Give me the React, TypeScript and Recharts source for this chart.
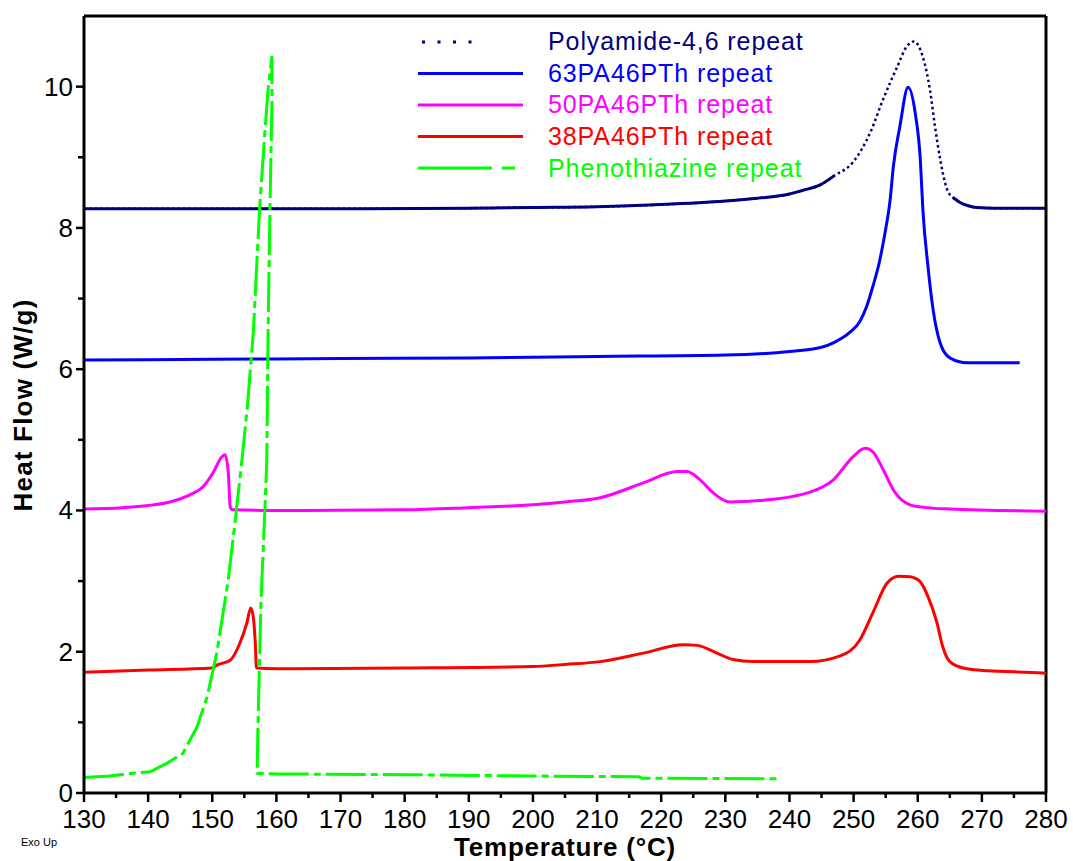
import React from 'react';
import { LineChart, Line, XAxis, YAxis, ReferenceLine, Legend, Label } from 'recharts';

// ---- Data (Temperature °C, Heat Flow W/g) ----
const pa46T = [130, 150, 170, 190, 200, 210, 220, 230, 235, 240, 242, 244.8, 247, 249.9, 252.6, 254.6, 256.8, 258.3, 259.4, 260.8, 261.9, 262.7, 263.5, 264.6, 265.5, 266.6, 268, 269.2, 272, 280];
const pa46HF = [8.27, 8.27, 8.27, 8.28, 8.29, 8.3, 8.33, 8.38, 8.42, 8.48, 8.53, 8.61, 8.74, 8.93, 9.35, 9.82, 10.28, 10.57, 10.64, 10.42, 9.96, 9.43, 8.97, 8.54, 8.43, 8.36, 8.31, 8.29, 8.28, 8.28];

const pa63T = [130, 150, 170, 190, 210, 230, 240, 245, 247, 249.4, 251, 252, 253, 254.1, 254.9, 255.7, 256.2, 257.2, 258.5, 259.6, 260.4, 260.8, 261.6, 262.4, 263.5, 265, 267.7, 275.9];
const pa63HF = [6.13, 6.14, 6.15, 6.16, 6.18, 6.2, 6.25, 6.31, 6.38, 6.52, 6.68, 6.88, 7.17, 7.55, 7.93, 8.4, 8.87, 9.43, 9.99, 9.63, 8.97, 8.26, 7.45, 6.84, 6.37, 6.16, 6.09, 6.09];

const pa50T = [130, 136, 140, 143.4, 146.5, 148.6, 150.1, 151.5, 152.0, 152.5, 152.8, 153.1, 160, 180, 190, 200, 205, 210.5, 217.2, 222.5, 224, 226.1, 228.1, 230.7, 235.4, 243.2, 246.8, 249.9, 251.8, 253, 254.6, 256.2, 258.8, 261.4, 265, 280];
const pa50HF = [4.02, 4.04, 4.07, 4.12, 4.22, 4.34, 4.53, 4.76, 4.79, 4.53, 4.05, 4.01, 4.0, 4.01, 4.04, 4.08, 4.12, 4.18, 4.39, 4.55, 4.55, 4.43, 4.25, 4.12, 4.14, 4.26, 4.43, 4.76, 4.88, 4.83, 4.58, 4.29, 4.08, 4.04, 4.02, 3.99];

const pa38T = [130, 140, 150, 150.7, 152.8, 154.3, 155.4, 156.0, 156.4, 156.7, 156.9, 160, 180, 200, 205, 210.5, 217.2, 223.4, 225.6, 228.7, 231.2, 234.3, 243.2, 247.9, 251, 253, 255.2, 257, 258.8, 260.4, 261.6, 263, 263.9, 265, 267.1, 270.8, 279.5, 280];
const pa38HF = [1.71, 1.74, 1.77, 1.81, 1.88, 2.12, 2.41, 2.62, 2.49, 2.14, 1.77, 1.76, 1.77, 1.79, 1.82, 1.86, 1.98, 2.1, 2.09, 1.98, 1.89, 1.86, 1.86, 1.94, 2.17, 2.55, 2.97, 3.07, 3.06, 2.99, 2.78, 2.41, 2.07, 1.86, 1.77, 1.73, 1.7, 1.69];

const pthT = [130, 134, 137.6, 140.3, 142.9, 145.4, 147.6, 149.2, 150.7, 152.5, 153.5, 154.5, 155.5, 156.4, 157.4, 158.2, 158.7, 159.3, 159.3, 159.0, 158.7, 158.5, 158.2, 157.6, 157.1, 157.0, 160, 180, 200, 216.5, 217, 238.2];
const pthHF = [0.22, 0.24, 0.28, 0.3, 0.42, 0.56, 0.93, 1.36, 1.98, 3.02, 3.8, 4.6, 5.5, 6.52, 8.3, 9.35, 9.96, 10.43, 9.72, 8.3, 6.52, 4.7, 4.0, 2.72, 0.85, 0.28, 0.27, 0.26, 0.24, 0.23, 0.21, 0.2];

const xTicks = [130, 135, 140, 145, 150, 155, 160, 165, 170, 175, 180, 185, 190, 195, 200, 205, 210, 215, 220, 225, 230, 235, 240, 245, 250, 255, 260, 265, 270, 275, 280];
const yTicks = [0, 1, 2, 3, 4, 5, 6, 7, 8, 9, 10];

const seriesNames = ['Polyamide-4,6 repeat', '63PA46PTh repeat', '50PA46PTh repeat', '38PA46PTh repeat', 'Phenothiazine repeat'];
const seriesColors = ['#000080', '#0000FF', '#FF00FF', '#FF0000', '#00FF00'];

const rows = (t: number[], hf: number[]) => t.map((v, i) => ({ t: v, hf: hf[i] }));
const pa46Data = pa46T.map((v, i) => ({ t: v, hf: pa46HF[i], solid: v <= 247 || v >= 265.5 ? pa46HF[i] : null }));
const pa63Data = rows(pa63T, pa63HF);
const pa50Data = rows(pa50T, pa50HF);
const pa38Data = rows(pa38T, pa38HF);
const pthData = rows(pthT, pthHF);

const FONT = 'Liberation Sans, Arial, Helvetica, sans-serif';

const XTick = (props: any) => {
  const { x, y, payload } = props;
  const v = payload.value;
  const major = v % 10 === 0;
  return (
    <g>
      <line x1={x} x2={x} y1={y} y2={y + (major ? 9 : 5)} stroke="#000" strokeWidth={2.5} />
      {major && (
        <text x={x} y={y + 35} textAnchor="middle" fontSize={26} fontFamily={FONT} fill="#000">
          {v}
        </text>
      )}
    </g>
  );
};

const YTick = (props: any) => {
  const { x, y, payload } = props;
  const v = payload.value;
  const major = v % 2 === 0;
  return (
    <g>
      <line x1={x - (major ? 8 : 6)} x2={x} y1={y} y2={y} stroke="#000" strokeWidth={2.5} />
      {major && (
        <text x={x - 11} y={y + 9} textAnchor="end" fontSize={26} fontFamily={FONT} fill="#000">
          {v}
        </text>
      )}
    </g>
  );
};

const LegendBox = () => {
  const items = seriesNames.map((name, i) => ({ name, color: seriesColors[i] }));
  return (
    <svg width={430} height={170} style={{ display: 'block' }}>
      {items.map((it, i) => {
        const ly = 22 + 31.5 * i;
        const ty = 30 + 31.7 * i;
        let line;
        if (i === 0) {
          line = <line x1={22} x2={72} y1={ly} y2={ly} stroke={it.color} strokeWidth={3} strokeDasharray="3 12.5" />;
        } else if (i === 4) {
          line = <line x1={18} x2={115} y1={ly} y2={ly} stroke={it.color} strokeWidth={3} strokeDasharray="74 10 13 200" />;
        } else {
          line = <line x1={18} x2={123} y1={ly} y2={ly} stroke={it.color} strokeWidth={3} />;
        }
        return (
          <g key={it.name}>
            {line}
            <text x={148} y={ty} fontSize={25} fontFamily={FONT} fill={it.color} letterSpacing={0.9}>
              {it.name}
            </text>
          </g>
        );
      })}
    </svg>
  );
};

export default function App() {
  return (
    <div style={{ position: 'absolute', left: 0, top: 0, width: 1073, height: 861, background: '#fff' }}>
      <LineChart width={1073} height={861} margin={{ top: 16, right: 27, bottom: 0, left: 0 }}>
        <XAxis
          dataKey="t"
          type="number"
          domain={[130, 280]}
          allowDataOverflow
          ticks={xTicks}
          interval={0}
          height={68}
          tickSize={0}
          tickMargin={0}
          tickLine={false}
          tick={<XTick />}
          axisLine={{ stroke: '#000', strokeWidth: 3 }}
        >
          <Label
            content={() => (
              <text x={565} y={856} textAnchor="middle" fontSize={26} fontWeight="bold" fontFamily={FONT} fill="#000" letterSpacing={0.8}>
                Temperature (°C)
              </text>
            )}
          />
        </XAxis>
        <YAxis
          type="number"
          domain={[0, 11]}
          allowDataOverflow
          ticks={yTicks}
          interval={0}
          width={84}
          tickSize={0}
          tickMargin={0}
          tickLine={false}
          tick={<YTick />}
          axisLine={{ stroke: '#000', strokeWidth: 3 }}
        >
          <Label
            content={() => (
              <text x={32} y={405} transform="rotate(-90, 32, 405)" textAnchor="middle" fontSize={26} fontWeight="bold" fontFamily={FONT} fill="#000" letterSpacing={1.2}>
                Heat Flow (W/g)
              </text>
            )}
          />
        </YAxis>
        <ReferenceLine y={11} stroke="#000" strokeWidth={3} />
        <ReferenceLine x={280} stroke="#000" strokeWidth={3} />
        <Legend
          content={<LegendBox />}
          layout="vertical"
          align="center"
          verticalAlign="middle"
          wrapperStyle={{ left: 400, top: 20, width: 430, height: 170 }}
        />
        <Line data={pa46Data} dataKey="hf" name={seriesNames[0]} type="monotone" stroke={seriesColors[0]} strokeWidth={2.5} strokeDasharray="2.5 3" dot={false} activeDot={false} isAnimationActive={false} legendType="none" />
        <Line data={pa46Data} dataKey="solid" name={seriesNames[0] + ' base'} type="monotone" stroke={seriesColors[0]} strokeWidth={3} dot={false} activeDot={false} isAnimationActive={false} connectNulls={false} legendType="none" />
        <Line data={pa63Data} dataKey="hf" name={seriesNames[1]} type="monotone" stroke={seriesColors[1]} strokeWidth={3} dot={false} activeDot={false} isAnimationActive={false} />
        <Line data={pa50Data} dataKey="hf" name={seriesNames[2]} type="monotone" stroke={seriesColors[2]} strokeWidth={3} dot={false} activeDot={false} isAnimationActive={false} />
        <Line data={pa38Data} dataKey="hf" name={seriesNames[3]} type="monotone" stroke={seriesColors[3]} strokeWidth={3} dot={false} activeDot={false} isAnimationActive={false} />
        <Line data={pthData} dataKey="hf" name={seriesNames[4]} type="linear" stroke={seriesColors[4]} strokeWidth={3} strokeDasharray="40 5 7 5" dot={false} activeDot={false} isAnimationActive={false} />
      </LineChart>
      <div style={{ position: 'absolute', left: 21, top: 836, fontSize: 11, fontFamily: FONT, color: '#000', whiteSpace: 'nowrap' }}>
        Exo Up
      </div>
    </div>
  );
}
